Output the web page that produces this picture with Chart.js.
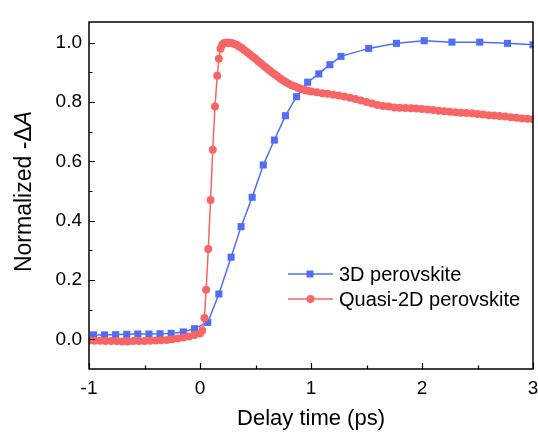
<!DOCTYPE html>
<html>
<head>
<meta charset="utf-8">
<script src="https://cdn.jsdelivr.net/npm/chart.js@4"></script>
<style>
  html, body { margin: 0; padding: 0; background: #fff; }
  #wrap { width: 538px; height: 434px; }
</style>
</head>
<body>
<div id="wrap"><canvas id="myChart" width="538" height="434"></canvas></div>
<script>
// data
const xTicks = [-1, 0, 1, 2, 3];
const yTicks = [0, 0.2, 0.4, 0.6, 0.8, 1.0];

const label3D = "3D perovskite";
const x3D = [-0.96, -0.86, -0.76, -0.66, -0.56, -0.46, -0.36, -0.26, -0.15, -0.05,
  0.07, 0.17, 0.28, 0.37, 0.47, 0.57, 0.67, 0.77, 0.87, 0.97, 1.07, 1.17, 1.27,
  1.52, 1.77, 2.02, 2.27, 2.52, 2.77, 3.0];
const y3D = [0.015, 0.015, 0.016, 0.017, 0.018, 0.018, 0.019, 0.02, 0.025, 0.036,
  0.057, 0.153, 0.277, 0.38, 0.479, 0.588, 0.672, 0.754, 0.818, 0.867, 0.895, 0.926, 0.954,
  0.981, 0.998, 1.007, 1.002, 1.002, 0.998, 0.993];

const label2D = "Quasi-2D perovskite";
const x2D = [-1.0, -0.95, -0.9, -0.85, -0.8, -0.75, -0.7, -0.65, -0.6, -0.55, -0.5,
  -0.45, -0.4, -0.35, -0.3, -0.25, -0.2, -0.15, -0.1, -0.05, 0.0,
  0.02, 0.04, 0.055, 0.075, 0.095, 0.115, 0.135, 0.155, 0.17, 0.185, 0.2, 0.215,
  0.23, 0.245, 0.26, 0.275, 0.29, 0.31, 0.33, 0.35, 0.375, 0.4, 0.425, 0.45, 0.475,
  0.5, 0.525, 0.55, 0.575, 0.6, 0.625, 0.65, 0.675, 0.7, 0.725, 0.75, 0.775, 0.8,
  0.825, 0.85, 0.875, 0.9, 0.925, 0.95, 0.975, 1.0,
  1.05, 1.1, 1.15, 1.2, 1.25, 1.3, 1.35, 1.4, 1.45, 1.5, 1.55, 1.6, 1.65, 1.7, 1.75,
  1.8, 1.85, 1.9, 1.95, 2.0, 2.05, 2.1, 2.15, 2.2, 2.25, 2.3, 2.35, 2.4, 2.45, 2.5,
  2.55, 2.6, 2.65, 2.7, 2.75, 2.8, 2.85, 2.9, 2.95, 3.0];
const y2D = [-0.004, -0.005, -0.005, -0.006, -0.006, -0.006, -0.007, -0.007, -0.006, -0.006, -0.006,
  -0.005, -0.004, -0.003, -0.002, 0.0, 0.003, 0.006, 0.01, 0.015, 0.02,
  0.03, 0.072, 0.167, 0.305, 0.47, 0.639, 0.785, 0.889, 0.946, 0.98, 0.993, 0.998,
  1.0, 1.0, 1.0, 0.999, 0.998, 0.996, 0.993, 0.988, 0.982, 0.975, 0.968, 0.96, 0.953,
  0.946, 0.938, 0.93, 0.922, 0.915, 0.907, 0.9, 0.893, 0.886, 0.879, 0.873, 0.867, 0.862,
  0.857, 0.853, 0.849, 0.846, 0.843, 0.84, 0.838, 0.836,
  0.833, 0.83, 0.828, 0.825, 0.822, 0.819, 0.815, 0.81, 0.805, 0.8, 0.795, 0.79, 0.787, 0.785, 0.782,
  0.781, 0.78, 0.779, 0.778, 0.777, 0.775, 0.773, 0.771, 0.769, 0.767, 0.766, 0.764, 0.763, 0.762, 0.76,
  0.758, 0.756, 0.755, 0.753, 0.751, 0.749, 0.747, 0.745, 0.744, 0.742];

const blue = "#4f6ef5";
const red = "#f86565";
const FONT = "'Liberation Sans', Arial, sans-serif";

const toPoints = (xs, ys) => xs.map((x, i) => ({ x: x, y: ys[i] }));

// box, inward ticks, titles, legend
const decor = {
  id: "decor",
  afterDraw(chart) {
    const ctx = chart.ctx;
    const a = chart.chartArea;
    const xs = chart.scales.x;
    const ys = chart.scales.y;
    ctx.save();
    ctx.strokeStyle = "#000";
    ctx.lineWidth = 1.5;
    ctx.strokeRect(a.left, a.top, a.right - a.left, a.bottom - a.top);

    ctx.lineWidth = 1.2;
    ctx.beginPath();
    for (let v = -1; v <= 3.001; v += 0.5) {
      const px = Math.round(xs.getPixelForValue(v)) + 0.5;
      const len = Math.abs(v - Math.round(v)) < 1e-6 ? 6 : 3.5;
      ctx.moveTo(px, a.bottom);
      ctx.lineTo(px, a.bottom - len);
    }
    for (let v = 0; v <= 1.001; v += 0.1) {
      const py = Math.round(ys.getPixelForValue(v)) + 0.5;
      const major = Math.round(v * 10) % 2 === 0;
      ctx.moveTo(a.left, py);
      ctx.lineTo(a.left + (major ? 6 : 3.5), py);
    }
    ctx.stroke();

    // x title
    ctx.fillStyle = "#000";
    ctx.font = "22px " + FONT;
    ctx.textAlign = "center";
    ctx.textBaseline = "middle";
    ctx.fillText("Delay time (ps)", (a.left + a.right) / 2, 419);

    // y title with italic A
    ctx.save();
    ctx.translate(25, (a.top + a.bottom) / 2 - 4);
    ctx.rotate(-Math.PI / 2);
    const f1 = "23px " + FONT;
    const f2 = "italic 23px " + FONT;
    ctx.font = f1;
    const w1 = ctx.measureText("Normalized -\u0394").width;
    ctx.font = f2;
    const w2 = ctx.measureText("A").width;
    ctx.textAlign = "left";
    ctx.font = f1;
    ctx.fillText("Normalized -\u0394", -(w1 + w2) / 2, 0);
    ctx.font = f2;
    ctx.fillText("A", -(w1 + w2) / 2 + w1, 0);
    ctx.restore();

    // legend
    const rows = [274, 299];
    chart.data.datasets.slice().sort((p, q) => p.legendRank - q.legendRank).forEach((ds, i) => {
      const y = rows[i];
      ctx.strokeStyle = ds.borderColor;
      ctx.lineWidth = 1.5;
      ctx.beginPath();
      ctx.moveTo(288, y);
      ctx.lineTo(333, y);
      ctx.stroke();
      ctx.fillStyle = ds.pointBackgroundColor;
      if (ds.pointStyle === "rect") {
        ctx.fillRect(306.5, y - 3.5, 7, 7);
      } else {
        ctx.beginPath();
        ctx.arc(310.5, y, 4, 0, Math.PI * 2);
        ctx.fill();
      }
      ctx.fillStyle = "#000";
      ctx.font = "20px " + FONT;
      ctx.textAlign = "left";
      ctx.textBaseline = "middle";
      ctx.fillText(ds.label, 339, y + 1);
    });
    ctx.restore();
  },
};

const config = {
  type: "line",
  data: {
    datasets: [
      {
        label: label2D,
        legendRank: 1,
        data: toPoints(x2D, y2D),
        borderColor: red,
        backgroundColor: red,
        pointBackgroundColor: red,
        pointBorderWidth: 0,
        pointStyle: "circle",
        pointRadius: 4,
        borderWidth: 1.5,
        order: 0,
      },
      {
        label: label3D,
        legendRank: 0,
        data: toPoints(x3D, y3D),
        borderColor: blue,
        backgroundColor: blue,
        pointBackgroundColor: blue,
        pointBorderWidth: 0,
        pointStyle: "rect",
        pointRadius: 5,
        borderWidth: 1.5,
        order: 1,
      },
    ],
  },
  options: {
    responsive: false,
    animation: false,
    layout: { padding: { top: 22, right: 5, left: 0, bottom: 0 } },
    plugins: { legend: { display: false }, tooltip: { enabled: false } },
    scales: {
      x: {
        type: "linear",
        min: -1,
        max: 3,
        afterBuildTicks: (s) => { s.ticks = xTicks.map((v) => ({ value: v })); },
        afterFit: (s) => { s.height = 65; s.paddingLeft = 0; s.paddingRight = 0; },
        grid: { display: false, drawTicks: false },
        border: { display: false },
        ticks: { padding: 8, color: "#000", font: { family: FONT, size: 19 }, maxRotation: 0 },
      },
      y: {
        type: "linear",
        min: -0.1,
        max: 1.07,
        afterBuildTicks: (s) => { s.ticks = yTicks.map((v) => ({ value: v })); },
        afterFit: (s) => { s.width = 89; s.paddingTop = 0; s.paddingBottom = 0; },
        grid: { display: false, drawTicks: false },
        border: { display: false },
        ticks: {
          padding: 7,
          color: "#000",
          font: { family: FONT, size: 19 },
          callback: (v) => v.toFixed(1),
        },
      },
    },
  },
  plugins: [decor],
};

const myChart = new Chart(document.getElementById("myChart"), config);
</script>
</body>
</html>
